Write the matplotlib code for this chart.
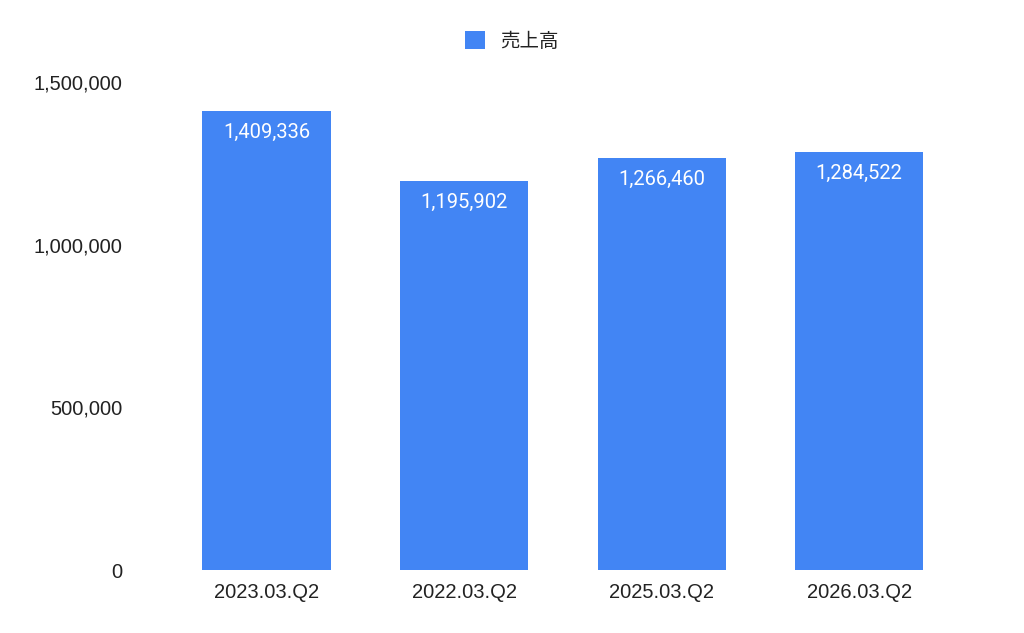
import matplotlib.pyplot as plt
from matplotlib.ticker import FuncFormatter
from matplotlib.patches import Patch

# Chart data
periods = ['2023.03.Q2', '2022.03.Q2', '2025.03.Q2', '2026.03.Q2']
sales = [1409336, 1195902, 1266460, 1284522]
series_name = '売上高'
yticks = [0, 500000, 1000000, 1500000]

bar_color = '#4285F4'

plt.rcParams['font.family'] = ['Liberation Sans', 'Noto Sans CJK JP', 'DejaVu Sans']

fig = plt.figure(figsize=(10.24, 6.33), dpi=100)
ax = fig.add_axes([0.164, 0.0995, 0.7715, 0.771])

x = range(len(periods))
bars = ax.bar(x, sales, width=0.65, color=bar_color)

# Value labels inside top of bars
for rect, val in zip(bars, sales):
    ax.annotate(f'{val:,}', xy=(rect.get_x() + rect.get_width() / 2, rect.get_height()),
                xytext=(0, -8.5), textcoords='offset points', ha='center', va='top',
                color='white', fontsize=14.5, family=['Roboto', 'DejaVu Sans'])

ax.set_xlim(-0.5, len(periods) - 0.5)
ax.set_ylim(0, 1500000)
ax.set_xticks(list(x))
ax.set_xticklabels(periods, fontsize=14.5, color='#222222')
ax.set_yticks(yticks)
ax.yaxis.set_major_formatter(FuncFormatter(lambda v, p: f'{int(v):,}'))
ax.tick_params(axis='y', labelsize=14.5, labelcolor='#222222', length=0, pad=33)
ax.tick_params(axis='x', length=0, pad=9)
for s in ax.spines.values():
    s.set_visible(False)

# Legend on top centre
handle = Patch(facecolor=bar_color, edgecolor='none')
fig.legend([handle], [series_name], loc='center', bbox_to_anchor=(0.5, 0.935),
           frameon=False, prop={'family': ['Noto Sans CJK JP', 'DejaVu Sans'], 'size': 14},
           handlelength=1.0, handleheight=1.0, handletextpad=0.8, labelcolor='#222222')

fig.savefig('out.png', dpi=100, facecolor='white')
